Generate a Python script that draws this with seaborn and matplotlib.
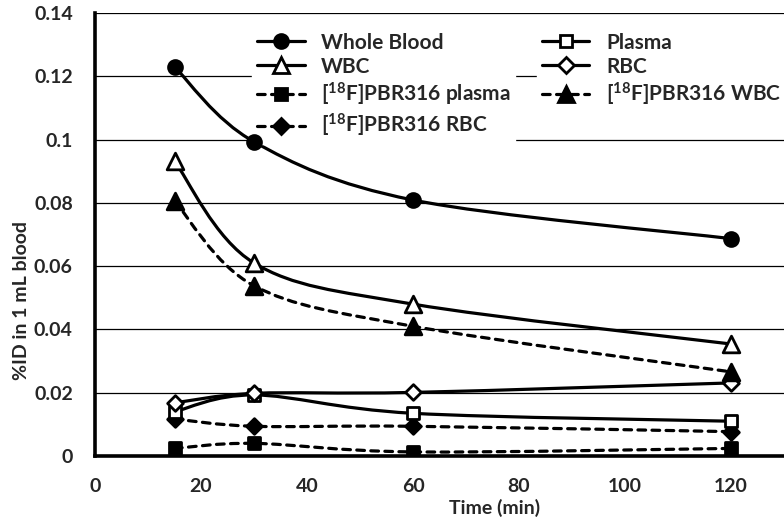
import numpy as np
import matplotlib.pyplot as plt
import seaborn as sns
from matplotlib.path import Path
from matplotlib.patches import PathPatch
from matplotlib.lines import Line2D

# sampling times (min)
TIME = [15, 30, 60, 120]

# %ID in 1 mL blood
WHOLE_BLOOD = [0.1230, 0.0993, 0.0809, 0.0687]
WBC = [0.0932, 0.0610, 0.0480, 0.0354]
PBR_PLASMA = [0.0024, 0.0040, 0.0013, 0.0024]
PBR_RBC = [0.0117, 0.0094, 0.0094, 0.0077]
PLASMA = [0.0140, 0.0193, 0.0135, 0.0110]
RBC = [0.0168, 0.0198, 0.0201, 0.0231]
PBR_WBC = [0.0806, 0.0538, 0.0410, 0.0266]

SERIES = [
    # label, values, linestyle, marker, filled
    ("Whole Blood", WHOLE_BLOOD, "-", "o", True),
    ("WBC", WBC, "-", "^", False),
    (r"[$\mathbf{^{18}}$F]PBR316 plasma", PBR_PLASMA, "--", "s", True),
    (r"[$\mathbf{^{18}}$F]PBR316 RBC", PBR_RBC, "--", "D", True),
    ("Plasma", PLASMA, "-", "s", False),
    ("RBC", RBC, "-", "D", False),
    (r"[$\mathbf{^{18}}$F]PBR316 WBC", PBR_WBC, "--", "^", True),
]

MARKER_SIZE = {"o": 10, "^": 12, "s": 9, "D": 8}
LW = 2.3
DASH = (0, (2.4, 2.0))


def smooth_path(xs, ys, t=1 / 6):
    """Excel style smoothed line: cubic bezier through the data points"""
    pts = np.column_stack([xs, ys]).astype(float)
    n = len(pts)
    verts = [pts[0]]
    codes = [Path.MOVETO]
    for i in range(n - 1):
        p0 = pts[max(i - 1, 0)]
        p1 = pts[i]
        p2 = pts[i + 1]
        p3 = pts[min(i + 2, n - 1)]
        verts += [p1 + (p2 - p0) * t, p2 - (p3 - p1) * t, p2]
        codes += [Path.CURVE4] * 3
    return Path(verts, codes)


sns.set_style("white")
plt.rcParams["font.family"] = ["Lato", "DejaVu Sans"]
plt.rcParams["font.weight"] = "bold"
plt.rcParams["mathtext.fontset"] = "custom"
plt.rcParams["mathtext.bf"] = "Lato:bold"
plt.rcParams["mathtext.rm"] = "Lato:bold"
plt.rcParams["lines.solid_capstyle"] = "round"
plt.rcParams["lines.dash_capstyle"] = "round"

fig = plt.figure(figsize=(7.84, 5.22), dpi=100)
ax = fig.add_axes([0.1212, 0.1264, 0.8788, 0.8487])

handles = []
for label, vals, ls, mk, filled in SERIES:
    ls_use = DASH if ls == "--" else "-"
    patch = PathPatch(smooth_path(TIME, vals), fill=False, edgecolor="black",
                      lw=LW, linestyle=ls_use, zorder=3, capstyle="round")
    ax.add_patch(patch)
    fc = "black" if filled else "white"
    ms = MARKER_SIZE[mk]
    sns.scatterplot(x=TIME, y=vals, marker=mk, s=ms ** 2, color=fc,
                    edgecolor="black", linewidth=2.0, zorder=4, ax=ax, legend=False)
    handles.append(Line2D([], [], color="black", lw=LW, linestyle=ls_use,
                          marker=mk, markersize=ms, markerfacecolor=fc,
                          markeredgecolor="black", markeredgewidth=2.0,
                          label=label))

ax.set_xlim(0, 130)
ax.set_ylim(0, 0.14)
ax.set_xticks([0, 20, 40, 60, 80, 100, 120])
ax.set_yticks([0, 0.02, 0.04, 0.06, 0.08, 0.1, 0.12, 0.14])
ax.set_yticklabels([f"{v:g}" for v in ax.get_yticks()])
ax.tick_params(axis="both", length=0, labelsize=14)
ax.tick_params(axis="y", pad=16)
ax.tick_params(axis="x", pad=16)

ax.yaxis.grid(True, color="black", lw=0.9)
ax.xaxis.grid(False)
ax.set_axisbelow(True)
for side in ["top", "right"]:
    ax.spines[side].set_visible(False)
for side in ["left", "bottom"]:
    ax.spines[side].set_color("black")
    ax.spines[side].set_linewidth(2.6)

ax.set_xlabel("Time (min)", fontsize=14, fontweight="bold")
ax.set_ylabel("%ID in 1 mL blood", fontsize=14, fontweight="bold")
ax.xaxis.set_label_coords(0.58, -0.097)
ax.yaxis.set_label_coords(-0.095, 0.35)

# two legend columns, each on its own white box (as in the original)
leg_kw = dict(loc="upper left", bbox_transform=fig.transFigure,
              frameon=True, fancybox=False, framealpha=1,
              facecolor="white", edgecolor="white",
              fontsize=15, handlelength=2.3, handletextpad=0.8,
              labelspacing=0.2, borderpad=0.2)
leg1 = ax.legend(handles=handles[:4], bbox_to_anchor=(242 / 784, 1 - 18 / 522), **leg_kw)
leg1.set_zorder(3.5)
ax.add_artist(leg1)
leg2 = ax.legend(handles=handles[4:], bbox_to_anchor=(527 / 784, 1 - 18 / 522), **leg_kw)
leg2.set_zorder(3.5)

fig.savefig("out.png", dpi=100)
